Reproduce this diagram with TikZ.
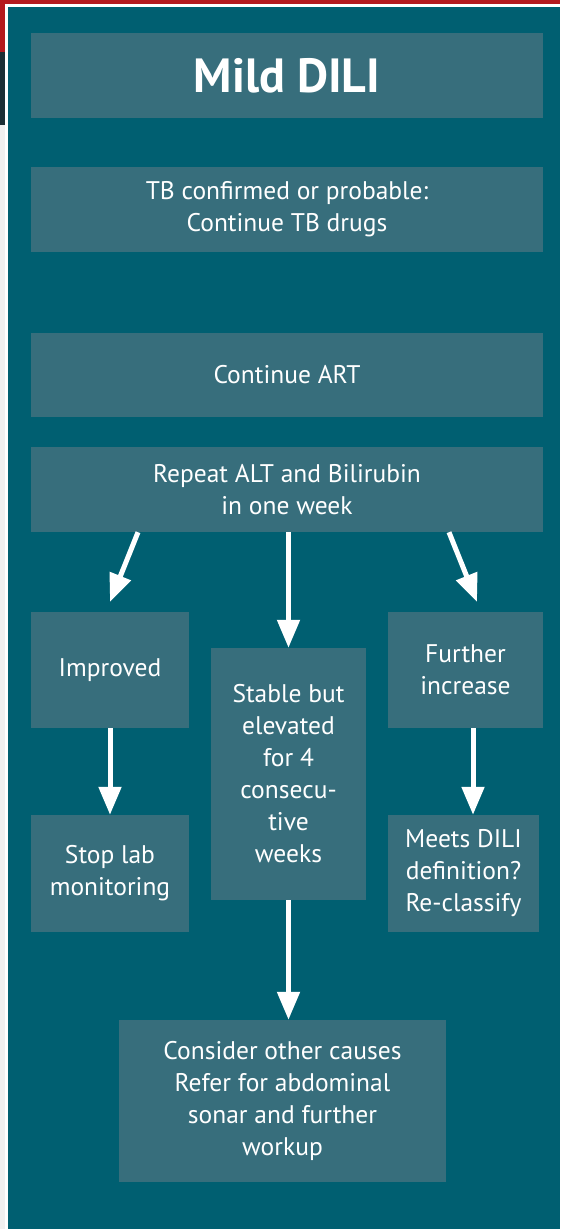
\documentclass[tikz,border=0pt]{standalone}
\usepackage{fontspec}
\setmainfont{PT Sans}
\usetikzlibrary{arrows.meta}
\definecolor{bgteal}{HTML}{005F71}
\definecolor{boxteal}{HTML}{376E7C}
\definecolor{bandred}{HTML}{B5191E}
\definecolor{darkedge}{HTML}{1C2F35}
\tikzset{
  box/.style={fill=boxteal, text=white, align=center, inner sep=0pt,
              font=\fontsize{25.5}{32}\selectfont},
  arr/.style={draw=white, line width=5pt, -{Triangle[width=22pt,length=28pt]}}
}
\begin{document}
\begin{tikzpicture}[x=1pt,y=-1pt]
    \useasboundingbox (0,0) rectangle (560,1229);
    % frame
    \fill[white] (0,0) rectangle (560,1229);
    \fill[black!6] (0,125) rectangle (5,1229);
    \fill[bandred] (0,0) rectangle (560,4);
    \fill[bandred] (0,0) rectangle (5,52);
    \fill[darkedge] (0,52) rectangle (5,125);
    \fill[bgteal] (8,7) rectangle (560,1229);
    % boxes
    \node[box, minimum width=512pt, minimum height=85pt, font=\fontsize{48}{50}\selectfont\bfseries] (title) at (287,75.5) {Mild DILI};
    \node[box, minimum width=512pt, minimum height=85pt] (tb) at (287,209.5) {TB confirmed or probable:\\Continue TB drugs};
    \node[box, minimum width=512pt, minimum height=84pt] (art) at (287,375) {Continue ART};
    \node[box, minimum width=512pt, minimum height=85pt] (repeat) at (287,489.5) {Repeat ALT and Bilirubin\\in one week};
    \node[box, minimum width=158pt, minimum height=116pt] (improved) at (110,670) {Improved};
    \node[box, minimum width=155pt, minimum height=252pt] (stable) at (288.5,774) {Stable but\\elevated\\for 4\\consecu-\\tive\\weeks};
    \node[box, minimum width=155pt, minimum height=116pt] (further) at (465.5,670) {Further\\increase};
    \node[box, minimum width=158pt, minimum height=117pt] (stop) at (110,873.5) {Stop lab\\monitoring};
    \node[box, minimum width=151pt, minimum height=117pt] (meets) at (463.5,873.5) {Meets DILI\\definition?\\Re-classify};
    \node[box, minimum width=327pt, minimum height=162pt] (other) at (282.5,1101) {Consider other causes\\Refer for abdominal\\sonar and further\\workup};
    % arrows
    \draw[arr] (repeat.south -| 138,0) -- (110,602);
    \draw[arr] (repeat.south -| stable) -- (stable.north);
    \draw[arr] (repeat.south -| 449,0) -- (477,602);
    \draw[arr] (improved.south) -- (stop.north);
    \draw[arr] (further.south -| 473,0) -- (meets.north -| 473,0);
    \draw[arr] (stable.south) -- (other.north -| stable);
\end{tikzpicture}
\end{document}
